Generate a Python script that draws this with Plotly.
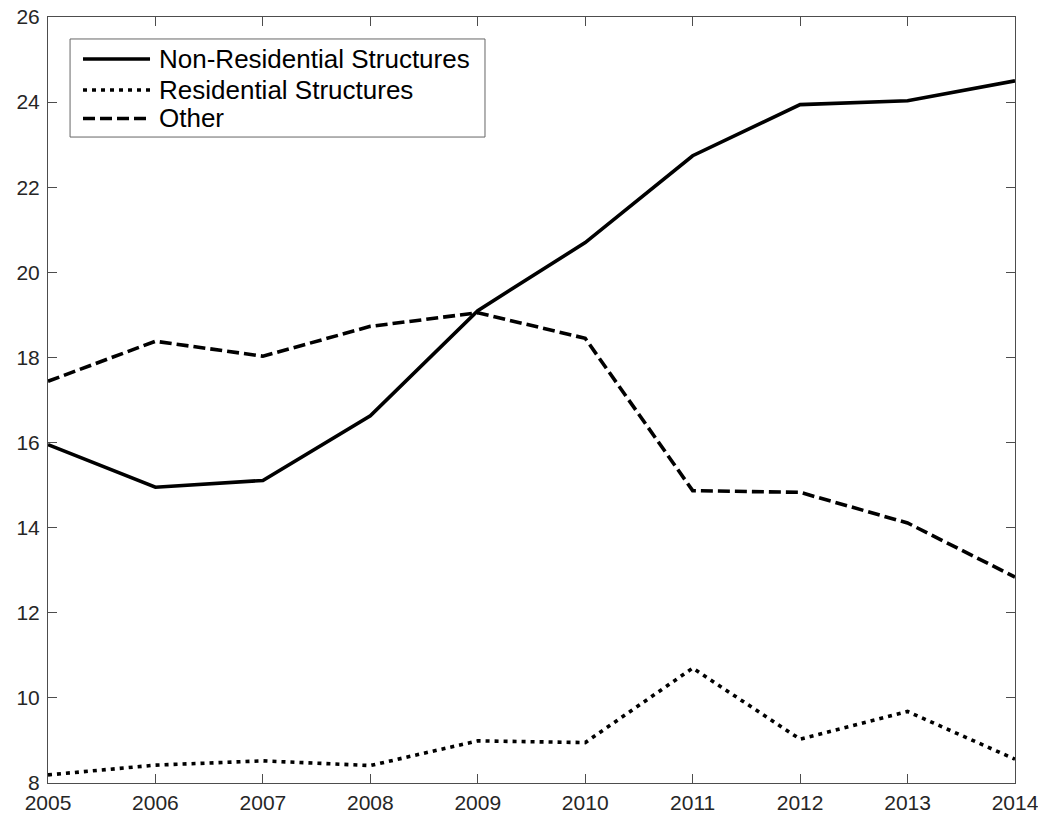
import plotly.graph_objects as go

years = [2005, 2006, 2007, 2008, 2009, 2010, 2011, 2012, 2013, 2014]
non_residential = [15.95, 14.95, 15.11, 16.63, 19.10, 20.70, 22.74, 23.94, 24.03, 24.50]
residential = [8.19, 8.42, 8.52, 8.41, 8.99, 8.95, 10.70, 9.03, 9.68, 8.56]
other = [17.44, 18.38, 18.03, 18.73, 19.05, 18.45, 14.87, 14.83, 14.11, 12.84]

series_names = ["Non-Residential Structures", "Residential Structures", "Other"]
series_values = [non_residential, residential, other]
series_dash = ["solid", "4px,5px", "12px,5px"]
x_ticks = list(range(2005, 2015))
y_ticks = list(range(8, 27, 2))

FONT = "Liberation Sans, Arial, Helvetica, sans-serif"
AX = "#4d4d4d"
TXT = "#262626"
LW = 3.6

fig = go.Figure()
for name, vals, dash in zip(series_names, series_values, series_dash):
    fig.add_trace(go.Scatter(x=years, y=vals, mode="lines", name=name, showlegend=False,
                             line=dict(color="black", width=LW, dash=dash)))

# Legend drawn in the plot-domain coordinates (MATLAB-style box legend)
box = dict(x0=0.0228, x1=0.4519, y0=0.8433, y1=0.9713)
fig.add_shape(type="rect", xref="x domain", yref="y domain", **box,
              line=dict(color="#666666", width=1), fillcolor="white", layer="above")
row_y = [0.9452, 0.9047, 0.8675]
for name, dash, ry in zip(series_names, series_dash, row_y):
    fig.add_shape(type="line", xref="x domain", yref="y domain",
                  x0=0.0362, x1=0.1055, y0=ry, y1=ry, layer="above",
                  line=dict(color="black", width=LW, dash=dash))
    fig.add_annotation(xref="x domain", yref="y domain", x=0.1130, y=ry,
                       xanchor="left", yanchor="middle", showarrow=False,
                       text=name, font=dict(family=FONT, size=26, color="black"))

# page body has an 8px margin; compensate so the plot area sits at 48..1015 x 17..783
fig.update_layout(
    width=1030, height=803,
    margin=dict(l=40, r=23, t=9, b=28, autoexpand=False),
    plot_bgcolor="white", paper_bgcolor="white",
    font=dict(family=FONT, size=21, color=TXT),
    showlegend=False,
)
fig.update_xaxes(
    range=[2005, 2014], tickvals=x_ticks, ticktext=[str(v) for v in x_ticks],
    showline=True, linecolor=AX, linewidth=1, mirror="ticks",
    ticks="inside", ticklen=9, tickcolor=AX, tickwidth=1,
    showgrid=False, zeroline=False, automargin=False,
    ticklabelstandoff=1, ticklabeloverflow="allow",
)
fig.update_yaxes(
    range=[8, 26], tickvals=y_ticks, ticktext=[str(v) for v in y_ticks],
    showline=True, linecolor=AX, linewidth=1, mirror="ticks",
    ticks="inside", ticklen=9, tickcolor=AX, tickwidth=1,
    showgrid=False, zeroline=False, automargin=False,
    ticklabelstandoff=3, ticklabeloverflow="allow",
)

fig.write_html("out.html")
